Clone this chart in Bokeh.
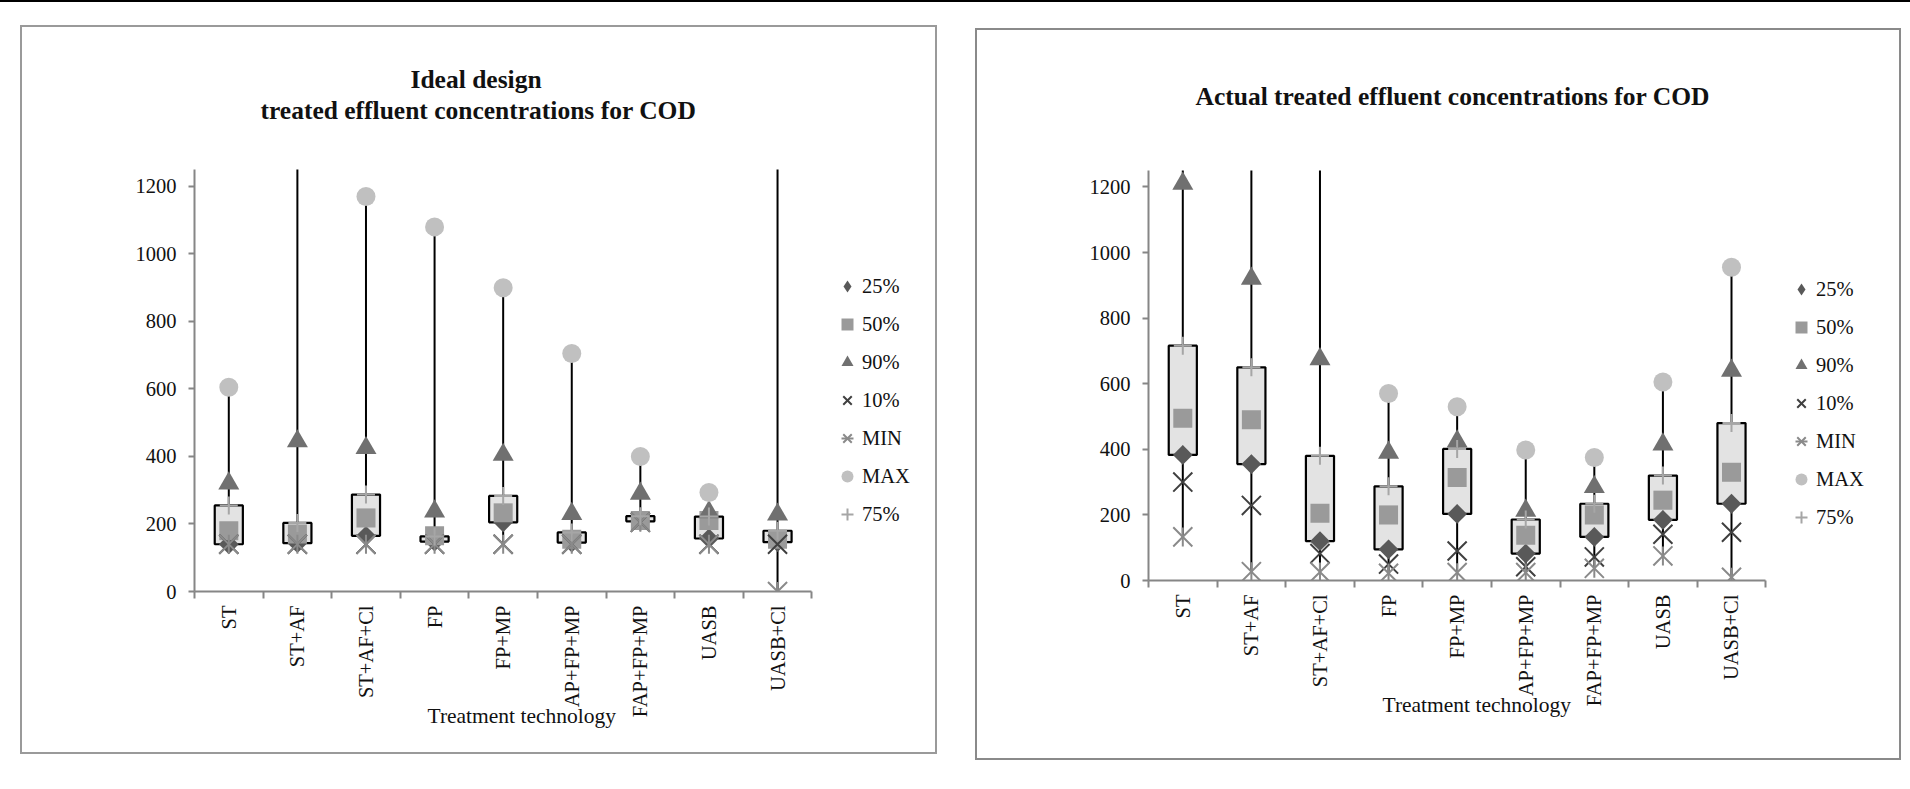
import numpy as np
from bokeh.plotting import figure
from bokeh.models import Range1d, FixedTicker, Legend, LegendItem, Title, Spacer
from bokeh.layouts import row, column
from bokeh.embed import file_html
from bokeh.resources import INLINE

# ---------------- data ----------------
categories = ["ST", "ST+AF", "ST+AF+Cl", "FP", "FP+MP", "AP+FP+MP", "FAP+FP+MP", "UASB", "UASB+Cl"]
legend_labels = ["25%", "50%", "90%", "10%", "MIN", "MAX", "75%"]
y_ticks = [0, 200, 400, 600, 800, 1000, 1200]

# Ideal design (off-scale maxima, above 1250, are estimates)
ideal_p25 = [140, 143, 165, 148, 205, 145, 208, 157, 146]
ideal_p50 = [180, 170, 218, 165, 233, 155, 210, 210, 155]
ideal_p75 = [255, 203, 287, 163, 283, 175, 223, 222, 180]
ideal_p90 = [320, 445, 425, 237, 405, 230, 290, 235, 228]
ideal_p10 = [140, 140, 140, 140, 140, 140, 205, 140, 140]
ideal_min = [140, 140, 140, 140, 140, 140, 205, 140, 0]
ideal_max = [605, 1400, 1170, 1080, 900, 705, 400, 293, 1400]

# Actual (off-scale maxima, above 1250, are estimates)
act_p25 = [383, 355, 120, 95, 203, 82, 133, 185, 234]
act_p50 = [495, 490, 205, 200, 314, 138, 200, 245, 330]
act_p75 = [716, 650, 380, 287, 401, 186, 234, 320, 480]
act_p90 = [1210, 920, 675, 390, 424, 213, 285, 415, 640]
act_p10 = [300, 229, 82, 50, 90, 42, 72, 141, 147]
act_min = [133, 27, 26, 22, 24, 24, 37, 75, 10]
act_max = [1400, 1400, 1400, 570, 530, 398, 375, 605, 955]

FONT = "Liberation Serif"
AXIS_GREY = "#868686"
N = len(categories)
CAT_PX = 614 / N          # pixels per category on the axis


def make_panel(vals, frame_w, frame_h, borders, title_specs, spacer_standoff,
               legend_loc, border_color, axis_title_offset, axis_title_standoff):
    p25, p50, p75, p90, p10, pmin, pmax = vals
    xs = list(range(1, N + 1))
    # the frame also covers the legend area on the right; the axis is bounded to the categories
    x_end = 0.5 + frame_w / CAT_PX
    p = figure(frame_width=frame_w, frame_height=frame_h, output_backend="svg",
               toolbar_location=None,
               x_range=Range1d(0.5, x_end), y_range=Range1d(0, 1250),
               min_border_left=borders[0], min_border_right=borders[1],
               min_border_top=borders[2], min_border_bottom=borders[3])
    p.title_location = None
    p.outline_line_color = None
    p.xgrid.visible = False
    p.ygrid.visible = False
    p.background_fill_color = "white"
    p.border_fill_color = "white"
    p.styles = {"border": f"2px solid {border_color}"}

    # x axis: labels at category centres, ticks at category boundaries
    xa = p.xaxis[0]
    xa.bounds = (0.5, N + 0.5)
    xa.ticker = FixedTicker(ticks=xs, minor_ticks=[x - 0.5 for x in xs] + [xs[-1] + 0.5])
    xa.major_label_overrides = {x: c for x, c in zip(xs, categories)}
    xa.major_label_orientation = np.pi / 2
    xa.major_tick_out = 0
    xa.major_tick_in = 0
    xa.minor_tick_out = 7
    xa.minor_tick_in = 0
    xa.minor_tick_line_color = AXIS_GREY
    xa.minor_tick_line_width = 2
    xa.axis_line_color = AXIS_GREY
    xa.axis_line_width = 2
    xa.major_label_standoff = 7
    xa.major_label_text_font = FONT
    xa.major_label_text_font_size = "20.5px"
    xa.major_label_text_color = "#111111"

    ya = p.yaxis[0]
    ya.ticker = FixedTicker(ticks=y_ticks)
    ya.major_tick_out = 6
    ya.major_tick_in = 0
    ya.minor_tick_line_color = None
    ya.major_tick_line_color = AXIS_GREY
    ya.major_tick_line_width = 2
    ya.axis_line_color = AXIS_GREY
    ya.axis_line_width = 2
    ya.major_label_standoff = 12
    ya.major_label_text_font = FONT
    ya.major_label_text_font_size = "20.5px"
    ya.major_label_text_color = "#111111"

    # whiskers (MIN to MAX) and boxes (25% to 75%)
    p.segment(x0=xs, y0=pmin, x1=xs, y1=pmax, line_color="black", line_width=2)
    p.vbar(x=xs, width=0.41, bottom=p25, top=p75, fill_color="#e3e3e3",
           line_color="black", line_width=2.2)

    r25 = p.scatter(xs, p25, marker="diamond", size=19, fill_color="#595959", line_color=None)
    p.scatter(xs, p25, marker="square", angle=np.pi / 4, size=14,
              fill_color="#595959", line_color=None)
    r50 = p.scatter(xs, p50, marker="square", size=19, fill_color="#9a9a9a", line_color=None)
    r90 = p.scatter(xs, p90, marker="triangle", size=21, fill_color="#707070", line_color=None)
    r10 = p.scatter(xs, p10, marker="x", size=27, line_color="#404040", line_width=2)
    rmin1 = p.scatter(xs, pmin, marker="x", size=27, line_color="#8a8a8a", line_width=2)
    rmin2 = p.scatter(xs, pmin, marker="dash", angle=np.pi / 2, size=19,
                      line_color="#8a8a8a", line_width=2)
    rmax = p.scatter(xs, pmax, marker="circle", size=19, fill_color="#c0c0c0", line_color=None)
    r75 = p.scatter(xs, p75, marker="cross", size=18, line_color="#a6a6a6", line_width=2)

    rends = [[r25], [r50], [r90], [r10], [rmin1, rmin2], [rmax], [r75]]
    legend = Legend(items=[LegendItem(label=l, renderers=r) for l, r in zip(legend_labels, rends)],
                    location=legend_loc, orientation="vertical",
                    glyph_width=30, glyph_height=30, label_height=30, spacing=8,
                    padding=0, margin=0, border_line_color=None, background_fill_alpha=0,
                    label_standoff=-15, label_text_font=FONT, label_text_font_size="20.5px",
                    label_text_color="#111111")
    p.add_layout(legend)

    # titles (nearest to the frame first)
    p.add_layout(Title(text=" ", text_font_size="1px", standoff=spacer_standoff), "above")
    for text, offset in title_specs:
        p.add_layout(Title(text=text, align="left", offset=offset, standoff=0,
                           text_font=FONT, text_font_size="25.5px", text_font_style="bold",
                           text_color="#111111"), "above")

    # axis title (a second, empty line gives room to pull it up under the rotated labels)
    p.add_layout(Title(text="Treatment technology\n", align="left", offset=axis_title_offset,
                       vertical_align="top", standoff=axis_title_standoff,
                       text_font=FONT, text_font_size="21.5px", text_font_style="normal",
                       text_color="#111111"), "below")
    return p


# left panel: canvas 913 x 725, frame x 194..930 (axis 194..808), y 169..587
p1 = make_panel((ideal_p25, ideal_p50, ideal_p75, ideal_p90, ideal_p10, ideal_min, ideal_max),
                736, 418, (172, 5, 142, 165),
                [("treated effluent concentrations for COD", 66),
                 ("Ideal design", 216)],
                42, (638, 62), "#9a9a9a", 233, -34)

# right panel: canvas 922 x 728, frame x 1148..1894 (axis 1148..1762), y 170..576
p2 = make_panel((act_p25, act_p50, act_p75, act_p90, act_p10, act_min, act_max),
                746, 406, (171, 5, 140, 182),
                [("Actual treated effluent concentrations for COD", 47)],
                57, (638, 48), "#8a8a8a", 234, -34)

top_rule = Spacer(width=1910, height=2, styles={"background-color": "#000000"})
layout = column(top_rule, Spacer(height=23),
                row(Spacer(width=20), p1, Spacer(width=38), column(Spacer(height=3), p2)))

open("out.html", "w").write(file_html(layout, INLINE))
